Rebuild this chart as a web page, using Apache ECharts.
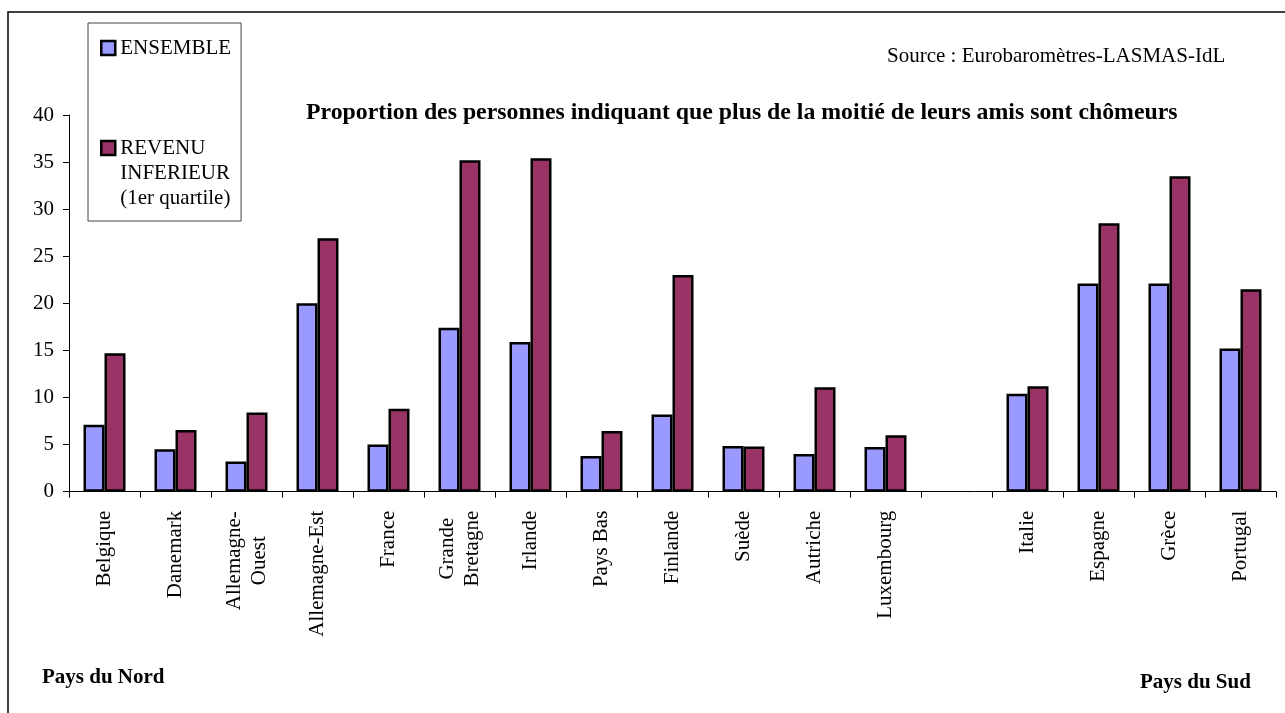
<!DOCTYPE html>
<html>
<head>
<meta charset="utf-8">
<title>Proportion des personnes indiquant que plus de la moitié de leurs amis sont chômeurs</title>
<script src="https://cdn.jsdelivr.net/npm/echarts@6/dist/echarts.min.js"></script>
<style>
    html, body { margin: 0; padding: 0; background: #fff; }
    #chart { width: 1285px; height: 713px; }
</style>
</head>
<body>
<div id="chart"></div>
<script>
// pays (une case vide sépare le nord du sud)
const categories = ['Belgique', 'Danemark', 'Allemagne-\nOuest', 'Allemagne-Est', 'France',
    'Grande\nBretagne', 'Irlande', 'Pays Bas', 'Finlande', 'Suède', 'Autriche', 'Luxembourg',
    '', 'Italie', 'Espagne', 'Grèce', 'Portugal'];

const ensemble = [7.1, 4.5, 3.2, 20.0, 5.0, 17.4, 15.9, 3.8, 8.2, 4.85, 4.0, 4.75,
    null, 10.4, 22.1, 22.1, 15.2];

const revenuInferieur = [14.7, 6.55, 8.4, 26.9, 8.8, 35.2, 35.4, 6.45, 23.0, 4.8, 11.1, 6.0,
    null, 11.2, 28.5, 33.5, 21.5];

const yTicks = [0, 5, 10, 15, 20, 25, 30, 35, 40];

const serif = "'Liberation Serif', 'Times New Roman', serif";

const chart = echarts.init(document.getElementById('chart'));

// étiquettes sur deux lignes : lignes centrées entre elles
function xLabel (val) {
    if (val.indexOf('\n') < 0) return val;
    const parts = val.split('\n');
    const key = val.indexOf('Allemagne') === 0 ? 'w1' : 'w2';
    return parts.map(p => '{' + key + '|' + p + '}').join('\n');
}

const option = {
    backgroundColor: '#fff',
    animation: false,
    textStyle: { fontFamily: serif, color: '#000' },
    title: [
        {
            text: 'Proportion des personnes indiquant que plus de la moitié de leurs amis sont chômeurs',
            left: 306, top: 99, padding: 0,
            textStyle: { fontFamily: serif, fontSize: 23.8, fontWeight: 'bold', color: '#000', lineHeight: 27 }
        },
        {
            text: 'Source : Eurobaromètres-LASMAS-IdL',
            left: 887, top: 44, padding: 0,
            textStyle: { fontFamily: serif, fontSize: 21, fontWeight: 'normal', color: '#000', lineHeight: 24 }
        },
        {
            text: 'Pays du Nord',
            left: 42, top: 666, padding: 0,
            textStyle: { fontFamily: serif, fontSize: 21, fontWeight: 'bold', color: '#000', lineHeight: 24 }
        },
        {
            text: 'Pays du Sud',
            left: 1140, top: 671, padding: 0,
            textStyle: { fontFamily: serif, fontSize: 21, fontWeight: 'bold', color: '#000', lineHeight: 24 }
        }
    ],
    legend: {
        orient: 'vertical',
        left: 88,
        top: 23,
        padding: [12.5, 10, 10.5, 12],
        icon: 'rect',
        itemWidth: 14,
        itemHeight: 14,
        itemGap: 25,
        itemTextGap: 4,
        borderColor: '#444',
        borderWidth: 1,
        selectedMode: false,
        itemStyle: { borderColor: '#000', borderWidth: 2.5 },
        textStyle: { fontFamily: serif, fontSize: 21, color: '#000', lineHeight: 25 },
        // deux lignes vides au-dessus : le carré reste en face de la première ligne
        formatter: function (name) {
            if (name === 'ENSEMBLE') return name;
            return '\n\nREVENU\nINFERIEUR\n(1er quartile)';
        },
        data: ['ENSEMBLE', 'REVENU INFERIEUR (1er quartile)']
    },
    grid: {
        left: 69,
        right: 9,
        top: 115,
        bottom: 221.3,
        containLabel: false
    },
    xAxis: {
        type: 'category',
        data: categories,
        axisLine: { lineStyle: { color: '#000', width: 1 } },
        axisTick: { show: true, length: 6, inside: false, lineStyle: { color: '#000' } },
        axisLabel: {
            rotate: 90,
            margin: 19,
            interval: 0,
            fontFamily: serif,
            fontSize: 21,
            color: '#000',
            lineHeight: 25,
            formatter: xLabel,
            rich: {
                w1: { width: 100, align: 'center', fontFamily: serif, fontSize: 21, lineHeight: 25, color: '#000' },
                w2: { width: 76, align: 'center', fontFamily: serif, fontSize: 21, lineHeight: 25, color: '#000' }
            }
        },
        splitLine: { show: false }
    },
    yAxis: {
        type: 'value',
        min: yTicks[0],
        max: yTicks[yTicks.length - 1],
        interval: 5,
        axisLine: { show: true, lineStyle: { color: '#000', width: 1 } },
        axisTick: { show: true, length: 6, lineStyle: { color: '#000' } },
        axisLabel: { margin: 15, fontFamily: serif, fontSize: 21, color: '#000' },
        splitLine: { show: false }
    },
    series: [
        {
            name: 'ENSEMBLE',
            type: 'bar',
            data: ensemble,
            barWidth: 21,
            barGap: '0%',
            itemStyle: { color: '#9999FF', borderColor: '#000', borderWidth: 2.5 }
        },
        {
            name: 'REVENU INFERIEUR (1er quartile)',
            type: 'bar',
            data: revenuInferieur,
            barWidth: 21,
            barGap: '0%',
            itemStyle: { color: '#993366', borderColor: '#000', borderWidth: 2.5 }
        }
    ],
    // cadre extérieur (bords droit et bas hors de l'image)
    graphic: [
        {
            type: 'rect',
            shape: { x: 8, y: 12, width: 1320, height: 740 },
            style: { fill: 'none', stroke: '#000', lineWidth: 1.5 },
            silent: true,
            z: -1
        }
    ]
};

chart.setOption(option);

window.addEventListener('resize', function () {
    chart.resize();
});
</script>
</body>
</html>
